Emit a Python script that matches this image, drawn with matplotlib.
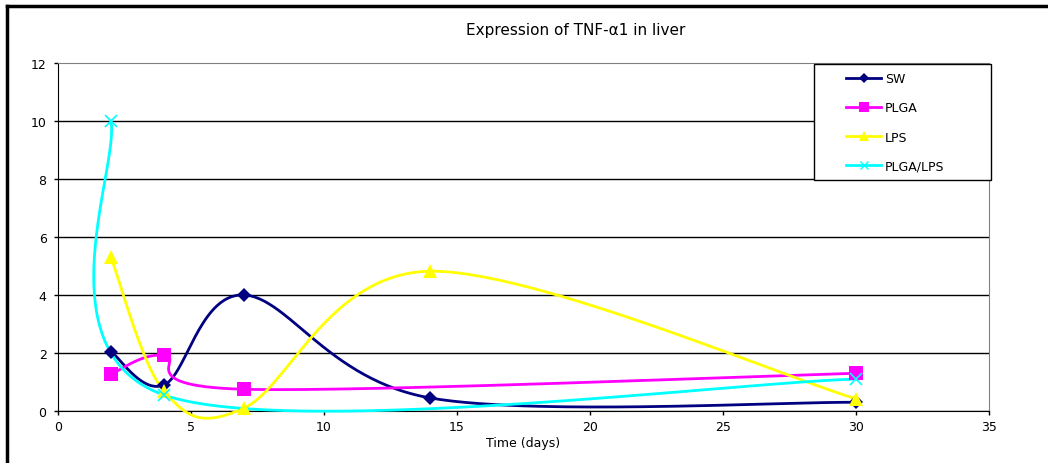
import numpy as np
import matplotlib
matplotlib.use("Agg")
import matplotlib.pyplot as plt
from matplotlib.lines import Line2D
from matplotlib.patches import Rectangle

plt.rcParams['font.family'] = ['DejaVu Sans']

# data
days_sw = [2, 4, 7, 14, 30]
sw = [2.05, 0.9, 4.0, 0.45, 0.3]
days_plga = [2, 4, 7, 30]
plga = [1.27, 1.92, 0.75, 1.3]
days_lps = [2, 4, 7, 14, 30]
lps = [5.3, 0.68, 0.1, 4.82, 0.42]
days_plga_lps = [2, 4, 30]
plga_lps = [10.0, 0.55, 1.1]

W, H = 1048, 464
fig = plt.figure(figsize=(W / 100, H / 100), dpi=100)
ax = fig.add_axes([57.7 / W, 1 - 412 / H, (989 - 57.7) / W, (412 - 64) / H])
ax.set_xlim(0, 35)
ax.set_ylim(0, 12)


def smooth(xs, ys, n=60):
    # excel-like smoothed line: bezier with catmull-rom tangents (1/6), in pixel space
    pts = ax.transData.transform(np.column_stack([xs, ys]))
    k = len(pts)
    tan = []
    for i in range(k):
        a = pts[max(i - 1, 0)]
        b = pts[min(i + 1, k - 1)]
        tan.append((b - a) / 6.0)
    out = [pts[0]]
    t = np.linspace(0, 1, n)[1:, None]
    for i in range(k - 1):
        p0, p3 = pts[i], pts[i + 1]
        p1 = p0 + tan[i]
        p2 = p3 - tan[i + 1]
        seg = (1 - t) ** 3 * p0 + 3 * (1 - t) ** 2 * t * p1 + 3 * (1 - t) * t ** 2 * p2 + t ** 3 * p3
        out.extend(seg)
    out = ax.transData.inverted().transform(np.array(out))
    return out[:, 0], out[:, 1]


series = [
    ("SW", days_sw, sw, "#000080", "D", 7),
    ("PLGA", days_plga, plga, "#FF00FF", "s", 10),
    ("LPS", days_lps, lps, "#FFFF00", "^", 10),
    ("PLGA/LPS", days_plga_lps, plga_lps, "#00FFFF", "x", 9),
]

handles = []
for name, xs, ys, col, mk, ms in series:
    sx, sy = smooth(xs, ys)
    ax.plot(sx, sy, color=col, lw=2, clip_on=False, zorder=3)
    ax.plot(xs, ys, ls="none", marker=mk, ms=ms, color=col, mew=1.2 if mk == "x" else 0,
            clip_on=False, zorder=4)
    handles.append(Line2D([], [], color=col, lw=2, marker=mk, ms=ms * 0.7,
                          mew=1 if mk == "x" else 0))

ax.set_xticks(range(0, 36, 5))
ax.set_yticks(range(0, 13, 2))
ax.grid(axis="y", color="black", lw=1)
ax.set_axisbelow(True)
ax.get_ygridlines()[-1].set_visible(False)
for s in ["top", "right"]:
    ax.spines[s].set_color("#808080")
for s in ["left", "bottom"]:
    ax.spines[s].set_color("black")
ax.tick_params(axis="both", direction="out", length=3, width=1, labelsize=9, color="black")
ax.tick_params(axis="y", pad=5)
ax.tick_params(axis="x", pad=3.5)
ax.set_xlabel("Time (days)", fontsize=9, labelpad=2)

fig.text(576 / W, 1 - 31 / H, "Expression of TNF-\u03b11 in liver", ha="center", va="center", fontsize=11)

# legend box
fig.add_artist(Rectangle((814 / W, 1 - 181 / H), (991 - 814) / W, (181 - 65) / H,
                         transform=fig.transFigure, facecolor="white", edgecolor="black",
                         lw=1, zorder=4))
fig.legend(handles, [s[0] for s in series], loc="upper left",
           bbox_to_anchor=(846 / W, 1 - 73 / H), frameon=False, fontsize=9,
           borderpad=0, borderaxespad=0, handlelength=2.8, handletextpad=0.3,
           labelspacing=1.3)

# chart border (top and left edges)
fig.add_artist(Line2D([7 / W, 7 / W], [0, 1 - 7 / H], transform=fig.transFigure, color="black", lw=2.5))
fig.add_artist(Line2D([7 / W, 1], [1 - 7 / H, 1 - 7 / H], transform=fig.transFigure, color="black", lw=2.5))

fig.savefig("out.png", dpi=100)
